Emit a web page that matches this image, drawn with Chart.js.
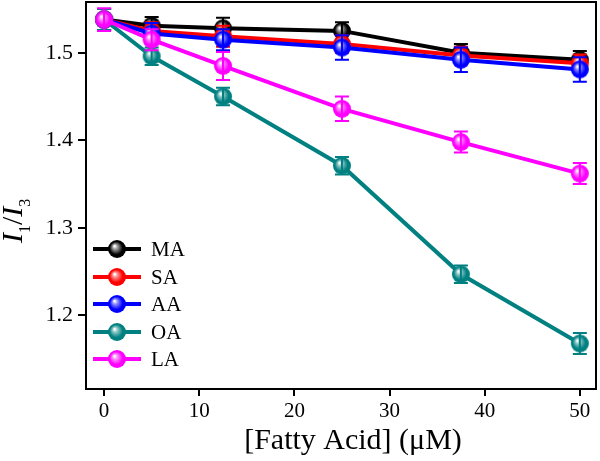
<!DOCTYPE html>
<html><head><meta charset="utf-8">
<script src="https://cdn.jsdelivr.net/npm/chart.js@4"></script>
<style>html,body{margin:0;padding:0;background:#fff}#wrap{width:600px;height:461px}</style>
</head><body><div id="wrap"><canvas id="c" width="600" height="461"></canvas></div>
<script>
const concentrations = [0, 5, 12.5, 25, 37.5, 50];
const seriesNames = ['MA', 'SA', 'AA', 'OA', 'LA'];
const seriesColors = ['#000000', '#ff0000', '#0000ff', '#008080', '#ff00ff'];
const MA = [1.538, 1.531, 1.528, 1.525, 1.500, 1.492];
const SA = [1.538, 1.525, 1.519, 1.510, 1.497, 1.488];
const AA = [1.538, 1.522, 1.515, 1.506, 1.492, 1.481];
const OA = [1.538, 1.496, 1.450, 1.371, 1.247, 1.168];
const LA = [1.538, 1.515, 1.485, 1.436, 1.398, 1.362];
const errMA = [0.012, 0.010, 0.012, 0.010, 0.010, 0.010];
const errSA = [0.012, 0.010, 0.012, 0.010, 0.010, 0.010];
const errAA = [0.012, 0.012, 0.012, 0.014, 0.014, 0.014];
const errOA = [0.012, 0.010, 0.010, 0.010, 0.010, 0.012];
const errLA = [0.013, 0.012, 0.016, 0.014, 0.012, 0.012];
const xTicks = [0, 10, 20, 30, 40, 50];
const yTicks = [1.2, 1.3, 1.4, 1.5];
const xTitle = '[Fatty Acid] (\u03bcM)';

const values = [MA, SA, AA, OA, LA];
const errors = [errMA, errSA, errAA, errOA, errLA];
const SERIF = "'Liberation Serif', 'Times New Roman', serif";
const R = 9;

function sphere(color) {
  const s = Math.ceil(R * 2 + 2);
  const cv = document.createElement('canvas');
  cv.width = s; cv.height = s;
  const g = cv.getContext('2d');
  const c = s / 2;
  const grad = g.createRadialGradient(c - 2.5, c - 3, 0.5, c, c, R);
  grad.addColorStop(0, '#ffffff');
  grad.addColorStop(0.25, color === '#000000' ? '#999999' : mix(color, 0.55));
  grad.addColorStop(0.7, color);
  grad.addColorStop(1, color);
  g.fillStyle = grad;
  g.beginPath(); g.arc(c, c, R, 0, Math.PI * 2); g.fill();
  return cv;
}
function mix(hex, t) {
  const r = parseInt(hex.substr(1,2),16), gg = parseInt(hex.substr(3,2),16), b = parseInt(hex.substr(5,2),16);
  const f = v => Math.round(v + (255 - v) * t);
  return 'rgb(' + f(r) + ',' + f(gg) + ',' + f(b) + ')';
}
const spheres = seriesColors.map(sphere);

const datasets = seriesNames.map((n, i) => ({
  label: n,
  data: concentrations.map((x, j) => ({ x: x, y: values[i][j] })),
  borderColor: seriesColors[i],
  backgroundColor: seriesColors[i],
  borderWidth: 4,
  pointStyle: spheres[i],
  pointRadius: R,
  pointHoverRadius: R,
  order: 4 - i,
  err: errors[i]
}));

const errorBars = {
  id: 'errorBars',
  afterDatasetDraw(chart, args) {
    const ds = chart.data.datasets[args.index];
    const meta = args.meta;
    const ctx = chart.ctx, ys = chart.scales.y;
    ctx.save();
    ctx.strokeStyle = ds.borderColor; ctx.lineWidth = 2;
    meta.data.forEach((pt, j) => {
      const v = ds.data[j].y, e = ds.err[j];
      const y1 = ys.getPixelForValue(v + e), y2 = ys.getPixelForValue(v - e);
      const x = pt.x;
      ctx.beginPath();
      ctx.moveTo(x, y1); ctx.lineTo(x, y2);
      ctx.moveTo(x - 7, y1); ctx.lineTo(x + 7, y1);
      ctx.moveTo(x - 7, y2); ctx.lineTo(x + 7, y2);
      ctx.stroke();
    });
    ctx.restore();
  }
};

const decor = {
  id: 'decor',
  afterDraw(chart) {
    const ctx = chart.ctx, a = chart.chartArea;
    ctx.save();
    ctx.strokeStyle = '#000'; ctx.lineWidth = 2;
    ctx.strokeRect(a.left, a.top, a.right - a.left, a.bottom - a.top);
    // legend
    const rows = [249, 277, 304, 332, 359];
    chart.data.datasets.forEach((ds, i) => {
      const y = rows[i];
      ctx.strokeStyle = ds.borderColor; ctx.lineWidth = 4;
      ctx.beginPath(); ctx.moveTo(93, y); ctx.lineTo(141, y); ctx.stroke();
      const img = ds.pointStyle;
      ctx.drawImage(img, 117 - img.width / 2, y - img.height / 2);
      ctx.fillStyle = '#000';
      ctx.font = '21px ' + SERIF;
      ctx.textBaseline = 'middle'; ctx.textAlign = 'left';
      ctx.fillText(ds.label, 151, y + 1);
    });
    // x title
    ctx.fillStyle = '#000';
    ctx.font = '30px ' + SERIF;
    ctx.textAlign = 'center'; ctx.textBaseline = 'alphabetic';
    ctx.fillText(xTitle, 353, 449);
    // y title I1/I3
    ctx.translate(22, 243);
    ctx.rotate(-Math.PI / 2);
    ctx.textAlign = 'left';
    let x = 0;
    const part = (t, font, dy) => { ctx.font = font; ctx.fillText(t, x, dy); x += ctx.measureText(t).width; };
    part('I', 'italic 30px ' + SERIF, 0);
    part('1', '16px ' + SERIF, 8);
    part('/', '30px ' + SERIF, 0);
    part('I', 'italic 30px ' + SERIF, 0);
    part('3', '16px ' + SERIF, 8);
    ctx.restore();
  }
};

const noPad = s => { s.paddingTop = 0; s.paddingBottom = 0; s.paddingLeft = 0; s.paddingRight = 0; };

new Chart(document.getElementById('c'), {
  type: 'line',
  data: { datasets: datasets },
  options: {
    responsive: false,
    animation: false,
    events: [],
    layout: { autoPadding: false, padding: { top: 2, right: 4, left: 0, bottom: 0 } },
    plugins: { legend: { display: false }, tooltip: { enabled: false } },
    scales: {
      x: {
        type: 'linear', min: -1.9, max: 51.7,
        afterBuildTicks: s => { s.ticks = xTicks.map(v => ({ value: v })); },
        afterFit: s => { s.height = 72; noPad(s); },
        grid: { display: true, drawOnChartArea: false, drawTicks: true, tickLength: 7, color: '#000', lineWidth: 2 },
        border: { display: true, color: '#000', width: 2 },
        ticks: { color: '#000', font: { family: SERIF, size: 21 }, padding: 3, maxRotation: 0 }
      },
      y: {
        type: 'linear', min: 1.116, max: 1.558,
        afterBuildTicks: s => { s.ticks = yTicks.map(v => ({ value: v })); },
        afterFit: s => { s.width = 86; noPad(s); },
        grid: { display: true, drawOnChartArea: false, drawTicks: true, tickLength: 8, color: '#000', lineWidth: 2 },
        border: { display: true, color: '#000', width: 2 },
        ticks: { color: '#000', font: { family: SERIF, size: 22 }, padding: 5, callback: v => v.toFixed(1) }
      }
    }
  },
  plugins: [errorBars, decor]
});
</script></body></html>
